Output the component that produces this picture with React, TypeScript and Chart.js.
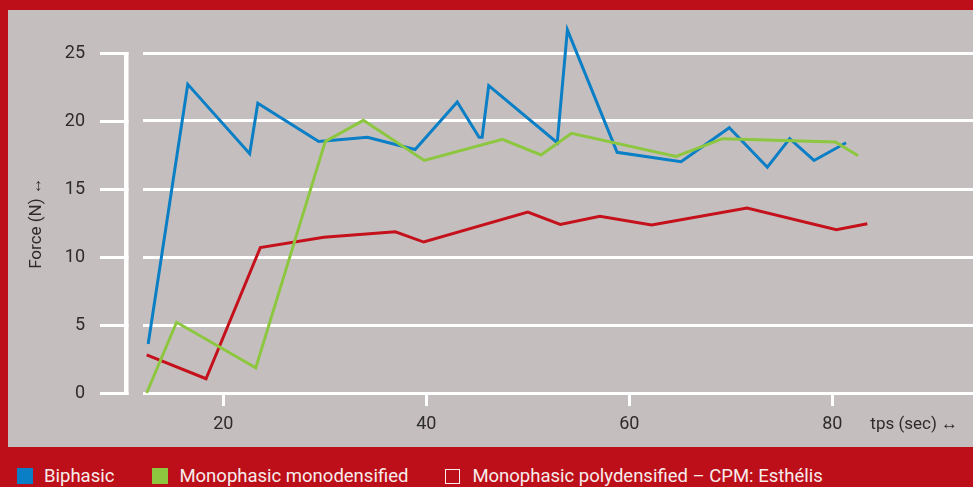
import React, { useEffect, useRef } from "react";
import { Chart, registerables } from "chart.js";

Chart.register(...registerables);

// ---- data ----
const biphasicX = [12.6, 16.5, 22.6, 23.4, 29.4, 34.2, 38.9, 43.05, 45.2, 45.5, 46.15, 52.9, 53.9, 58.8, 65.1, 69.85, 73.6, 75.8, 78.2, 81.35];
const biphasicY = [3.6, 22.7, 17.6, 21.3, 18.5, 18.8, 17.9, 21.4, 18.8, 18.8, 22.6, 18.4, 26.7, 17.7, 17.0, 19.5, 16.6, 18.7, 17.1, 18.4];

const monoX = [12.45, 15.4, 23.2, 30.05, 33.8, 39.8, 47.5, 51.3, 54.3, 64.6, 69.2, 80.3, 82.55];
const monoY = [0, 5.2, 1.85, 18.5, 20.05, 17.1, 18.65, 17.5, 19.1, 17.4, 18.7, 18.45, 17.45];

const polyX = [12.45, 18.3, 23.65, 29.9, 36.95, 39.75, 50.0, 53.2, 57.1, 62.2, 71.6, 80.4, 83.45];
const polyY = [2.8, 1.05, 10.7, 11.45, 11.85, 11.1, 13.3, 12.4, 13.0, 12.35, 13.6, 12.0, 12.45];

const seriesLabels = ["Biphasic", "Monophasic monodensified", "Monophasic polydensified \u2013 CPM: Esth\u00e9lis"];
const seriesColors = ["#0a7fc6", "#8dc63f", "#c5111c"];

const yTicks = [0, 5, 10, 15, 20, 25];
const xTicks = [20, 40, 60, 80];
const yTitle = "Force (N) \u2194";
const xTitle = "tps (sec) \u2194";

const FRAME_RED = "#bd0f19";
const PANEL_GRAY = "#c4bfbe";
const TEXT_DARK = "#2e2b2b";
const FONT = "Roboto, 'Noto Sans', sans-serif";

const toPoints = (xs: number[], ys: number[]) => xs.map((x, i) => ({ x, y: ys[i] }));

const axisDecor = {
  id: "axisDecor",
  beforeDatasetsDraw(chart: any) {
    const { ctx } = chart;
    const y = chart.scales.y;
    const x = chart.scales.x;
    ctx.save();
    ctx.strokeStyle = "#ffffff";
    ctx.lineWidth = 3;
    y.ticks.forEach((t: any) => {
      const py = Math.round(y.getPixelForValue(t.value)) + 0.5;
      ctx.beginPath();
      ctx.moveTo(92, py);
      ctx.lineTo(120.5, py);
      ctx.stroke();
    });
    ctx.lineWidth = 4.5;
    ctx.beginPath();
    ctx.moveTo(118.3, y.getPixelForValue(yTicks[yTicks.length - 1]) - 1);
    ctx.lineTo(118.3, y.getPixelForValue(0) + 2);
    ctx.stroke();
    ctx.fillStyle = TEXT_DARK;
    ctx.font = `17px ${FONT}`;
    ctx.textAlign = "left";
    ctx.textBaseline = "middle";
    ctx.fillText(xTitle, x.getPixelForValue(80) + 38, 415);
    ctx.restore();
  },
};

function ChartCanvas() {
  const ref = useRef<HTMLCanvasElement | null>(null);
  useEffect(() => {
    if (!ref.current) return;
    const datasets = [
      { label: seriesLabels[0], data: toPoints(biphasicX, biphasicY), borderColor: seriesColors[0], order: 1 },
      { label: seriesLabels[1], data: toPoints(monoX, monoY), borderColor: seriesColors[1], order: 0 },
      { label: seriesLabels[2], data: toPoints(polyX, polyY), borderColor: seriesColors[2], order: 2 },
    ].map((d) => ({
      ...d,
      backgroundColor: d.borderColor,
      borderWidth: 3,
      pointRadius: 0,
      tension: 0,
      fill: false,
      clip: false as any,
    }));
    const chart = new Chart(ref.current, {
      type: "line",
      data: { datasets },
      options: {
        animation: false,
        responsive: false,
        maintainAspectRatio: false,
        layout: { padding: { top: 43, left: 0, right: 0, bottom: 0 } },
        plugins: { legend: { display: false }, tooltip: { enabled: false } },
        scales: {
          x: {
            type: "linear",
            min: 12.09,
            max: 93.86,
            afterBuildTicks: (s: any) => {
              s.ticks = xTicks.map((v) => ({ value: v }));
            },
            afterFit: (s: any) => {
              s.height = 54;
            },
            border: { display: false },
            grid: { drawOnChartArea: false, drawTicks: true, tickLength: 13, color: "#ffffff", lineWidth: 3 },
            ticks: { color: TEXT_DARK, font: { family: FONT, size: 18 }, padding: 8, maxRotation: 0 },
          },
          y: {
            min: 0,
            max: 25,
            afterBuildTicks: (s: any) => {
              s.ticks = yTicks.map((v) => ({ value: v }));
            },
            afterFit: (s: any) => {
              s.width = 135;
            },
            border: { display: false },
            grid: { drawTicks: true, tickLength: 52, tickColor: "rgba(0,0,0,0)", color: "#ffffff", lineWidth: 3 },
            ticks: { color: TEXT_DARK, font: { family: FONT, size: 18 }, padding: 6 },
            title: {
              display: true,
              text: yTitle,
              color: TEXT_DARK,
              font: { family: FONT, size: 17 },
              padding: { top: 19, bottom: 0 },
            },
          },
        },
      },
      plugins: [axisDecor],
    });
    return () => chart.destroy();
  }, []);
  return <canvas ref={ref} width={965} height={437} style={{ display: "block", background: PANEL_GRAY }} />;
}

export default function App() {
  return (
    <div
      style={{
        position: "absolute",
        left: 0,
        top: 0,
        width: 973,
        height: 487,
        background: FRAME_RED,
        overflow: "hidden",
        fontFamily: FONT,
      }}
    >
      <div style={{ position: "absolute", left: 8, top: 10 }}>
        <ChartCanvas />
      </div>
      <div
        style={{
          position: "absolute",
          left: 17,
          top: 466,
          height: 20,
          display: "flex",
          alignItems: "center",
          color: "#f7ecec",
          fontSize: 18.5,
          whiteSpace: "nowrap",
        }}
      >
        {seriesLabels.map((label, i) => (
          <div key={label} style={{ display: "flex", alignItems: "center", marginRight: i === 0 ? 38 : 37 }}>
            <span
              style={{
                display: "inline-block",
                width: i === 2 ? 15 : 16,
                height: i === 2 ? 15 : 16,
                boxSizing: "border-box",
                background: i === 2 ? "transparent" : seriesColors[i],
                border: i === 2 ? "1.5px solid #f7ecec" : "none",
                marginRight: i === 2 ? 12 : 11,
              }}
            />
            <span>{label}</span>
          </div>
        ))}
      </div>
    </div>
  );
}
